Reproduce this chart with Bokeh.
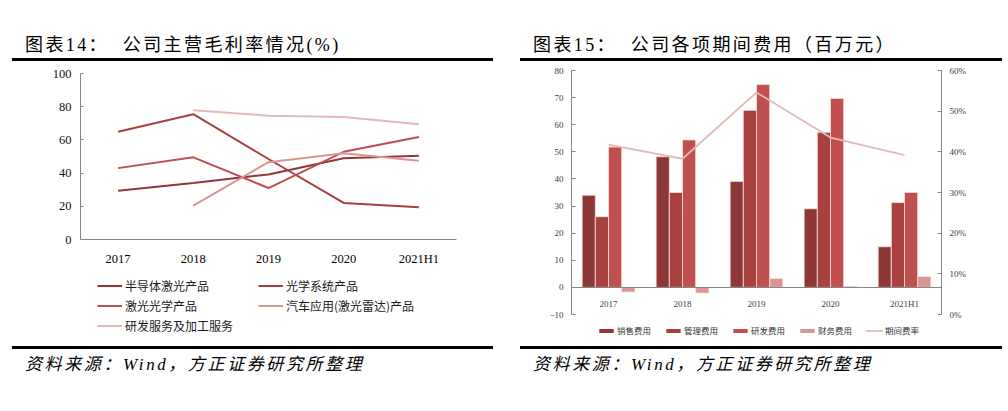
from bokeh.plotting import figure
from bokeh.models import (FactorRange, Range1d, LinearAxis, Legend, LegendItem,
                          Div, Spacer, NumeralTickFormatter, FixedTicker, ColumnDataSource)
from bokeh.layouts import row, column
from bokeh.embed import file_html
from bokeh.resources import INLINE
from bokeh.transform import dodge

# ---------------- data ----------------
periods = ["2017", "2018", "2019", "2020", "2021H1"]

# 图表14 毛利率 (%)
semi_laser = [29.3, 34.0, 39.2, 49.0, 50.5]          # 半导体激光产品
optical_system = [64.9, 75.5, 48.5, 22.0, 19.5]      # 光学系统产品
laser_optics = [43.0, 49.5, 31.0, 52.8, 61.7]        # 激光光学产品
auto_lidar_periods = ["2018", "2019", "2020", "2021H1"]
auto_lidar = [20.4, 46.6, 52.0, 47.4]                # 汽车应用(激光雷达)产品
rd_service_periods = ["2018", "2019", "2020", "2021H1"]
rd_service = [77.9, 74.6, 73.8, 69.5]                # 研发服务及加工服务

left_names = ["半导体激光产品", "光学系统产品", "激光光学产品", "汽车应用(激光雷达)产品", "研发服务及加工服务"]
left_colors = ["#943634", "#A9403D", "#C0504D", "#D99694", "#E6B9B8"]

# 图表15 期间费用 (百万元)
sales_exp = [34.0, 48.2, 39.1, 29.0, 15.0]     # 销售费用
admin_exp = [26.1, 35.0, 65.3, 57.2, 31.3]     # 管理费用
rd_exp = [51.8, 54.4, 74.8, 69.7, 35.0]        # 研发费用
fin_exp = [-1.7, -2.1, 3.3, 0.4, 4.0]          # 财务费用
expense_ratio = [0.418, 0.383, 0.546, 0.435, 0.392]  # 期间费率

right_names = ["销售费用", "管理费用", "研发费用", "财务费用", "期间费率"]
right_colors = ["#8C3836", "#A9423F", "#C0504D", "#D99694", "#E6B9B8"]

SERIF = "Liberation Serif"
CJK = "Noto Sans CJK SC"

left_series = [(periods, semi_laser), (periods, optical_system), (periods, laser_optics),
               (auto_lidar_periods, auto_lidar), (rd_service_periods, rd_service)]


def legend_fig(w, h, y_end):
    f = figure(x_range=FactorRange(*periods), y_range=Range1d(0, y_end), width=w, height=h, title=None,
               x_axis_location=None, y_axis_location=None, min_border=0,
               output_backend="svg", toolbar_location=None)
    f.outline_line_color = None
    f.xgrid.visible = False
    f.ygrid.visible = False
    return f

# ---------------- left chart ----------------
p1 = figure(x_range=FactorRange(*periods), y_range=Range1d(0, 100),
            width=481, height=207, title=None,
            min_border_left=68, min_border_right=37, min_border_top=12, min_border_bottom=23,
            output_backend="svg", toolbar_location=None)
p1.outline_line_color = None
p1.xgrid.visible = False
p1.ygrid.visible = False

for (xs, ys), c in zip(left_series, left_colors):
    p1.line(xs, ys, line_color=c, line_width=2)

ya = p1.yaxis[0]
ya.ticker = FixedTicker(ticks=[0, 20, 40, 60, 80, 100])
ya.axis_line_color = "#868686"
ya.major_tick_line_color = "#868686"
ya.major_tick_in = 3
ya.major_tick_out = 0
ya.minor_tick_line_color = None
ya.major_label_standoff = 9
ya.major_label_text_font = SERIF
ya.major_label_text_font_size = "12.5px"
ya.major_label_text_color = "#111111"

xa = p1.xaxis[0]
xa.axis_line_color = "#868686"
xa.major_tick_line_color = None
xa.minor_tick_line_color = None
xa.major_label_standoff = 6
xa.major_label_text_font = SERIF
xa.major_label_text_font_size = "12.5px"
xa.major_label_text_color = "#000000"

# legend of the left chart (own strip under the chart, series kept hidden there)
l1 = legend_fig(481, 78, 100)
l1_items = []
for (xs, ys), n, c in zip(left_series, left_names, left_colors):
    r = l1.line(xs, ys, line_color=c, line_width=2, visible=False)
    l1_items.append(LegendItem(label=n, renderers=[r]))
leg1 = Legend(items=l1_items, orientation="horizontal", ncols=2, location=(17, 12),
              padding=0, margin=0, spacing=3, glyph_width=25, glyph_height=17,
              label_height=17, label_width=130, label_standoff=3,
              label_text_font=CJK, label_text_font_size="12px", label_text_color="#1a1a1a",
              border_line_color=None, background_fill_alpha=0, inactive_fill_alpha=0)
l1.add_layout(leg1, "center")

# ---------------- right chart ----------------
src = ColumnDataSource(dict(period=periods, sales=sales_exp, admin=admin_exp,
                            rd=rd_exp, fin=fin_exp, ratio=expense_ratio))

p2 = figure(x_range=FactorRange(*periods), y_range=Range1d(-10, 80),
            width=482, height=261, title=None,
            min_border_left=51, min_border_right=61, min_border_top=9, min_border_bottom=8,
            output_backend="svg", toolbar_location=None)
p2.outline_line_color = None
p2.xgrid.visible = False
p2.ygrid.visible = False
p2.extra_y_ranges = {"pct": Range1d(0, 0.6)}

bw = 0.178
offs = [-0.267, -0.089, 0.089, 0.267]
bar_cols = ["sales", "admin", "rd", "fin"]
for col, off, c in zip(bar_cols, offs, right_colors[:4]):
    p2.vbar(x=dodge("period", off, range=p2.x_range), top=col, bottom=0, width=bw,
            source=src, fill_color=c, line_color="#F4E2E1", line_width=0.8)
p2.line(x="period", y="ratio", source=src, y_range_name="pct",
        line_color=right_colors[4], line_width=1.8)

ly = p2.yaxis[0]
ly.ticker = FixedTicker(ticks=list(range(-10, 81, 10)))
ry = LinearAxis(y_range_name="pct", ticker=FixedTicker(ticks=[0, 0.1, 0.2, 0.3, 0.4, 0.5, 0.6]),
                formatter=NumeralTickFormatter(format="0%"))
p2.add_layout(ry, "right")
for ax in (ly, ry):
    ax.axis_line_color = "#868686"
    ax.major_tick_line_color = "#868686"
    ax.major_tick_in = 4
    ax.major_tick_out = 0
    ax.minor_tick_line_color = None
    ax.major_label_standoff = 8
    ax.major_label_text_font = SERIF
    ax.major_label_text_font_size = "9px"
    ax.major_label_text_color = "#404040"

bx = p2.xaxis[0]
bx.fixed_location = 0
bx.axis_line_color = "#868686"
bx.major_tick_line_color = None
bx.minor_tick_line_color = None
bx.major_label_standoff = 6
bx.major_label_text_font = SERIF
bx.major_label_text_font_size = "9px"
bx.major_label_text_color = "#404040"

# legend of the right chart (own strip under the chart, series kept hidden there)
l2 = legend_fig(482, 24, 80)
l2_items = []
for col, n, c in zip(bar_cols, right_names[:4], right_colors[:4]):
    r = l2.vbar(x="period", top=col, width=bw, source=src, fill_color=c, line_color=None, visible=False)
    l2_items.append(LegendItem(label=n, renderers=[r]))
r = l2.line(x="period", y="ratio", source=src, line_color=right_colors[4], line_width=1.8, visible=False)
l2_items.append(LegendItem(label=right_names[4], renderers=[r]))
leg2 = Legend(items=l2_items, orientation="horizontal", location=(26, 10),
              padding=0, margin=0, spacing=13, glyph_width=18, glyph_height=5,
              label_height=10, label_standoff=2,
              label_text_font=CJK, label_text_font_size="8.5px", label_text_color="#333333",
              border_line_color=None, background_fill_alpha=0, inactive_fill_alpha=0)
l2.add_layout(leg2, "center")

# ---------------- titles / sources ----------------
def title_div(text, w):
    html = (f'<div style="width:{w}px;height:53px;box-sizing:border-box;border-bottom:3px solid #000;'
            f'padding-top:28px;padding-left:13px;font-family:\'{SERIF}\',\'{CJK}\';font-size:18px;'
            f'line-height:18px;letter-spacing:2.4px;color:#000;white-space:nowrap">{text}</div>')
    return Div(text=html, width=w, height=53, margin=(0, 0, 0, 0))

def source_div(text, w):
    html = (f'<div style="width:{w}px;height:50px;box-sizing:border-box;border-top:3px solid #000;'
            f'padding-top:7px;padding-left:13px;font-family:\'{SERIF}\',\'{CJK}\';font-size:17px;'
            f'font-style:italic;line-height:18px;letter-spacing:2.6px;color:#000;white-space:nowrap">{text}</div>')
    return Div(text=html, width=w, height=50, margin=(0, 0, 0, 0))

left_col = column(title_div("图表14：&nbsp;&nbsp;公司主营毛利率情况(%)", 481), p1, l1,
                  source_div("资料来源：Wind，方正证券研究所整理", 481), spacing=0)
right_col = column(title_div("图表15：&nbsp;&nbsp;公司各项期间费用（百万元）", 482), p2, l2,
                   source_div("资料来源：Wind，方正证券研究所整理", 482), spacing=0)

body = row(Spacer(width=12, height=10), left_col, Spacer(width=27, height=10), right_col, spacing=0)
layout = column(Spacer(width=10, height=8), body, spacing=0)

open("out.html", "w").write(file_html(layout, INLINE))
